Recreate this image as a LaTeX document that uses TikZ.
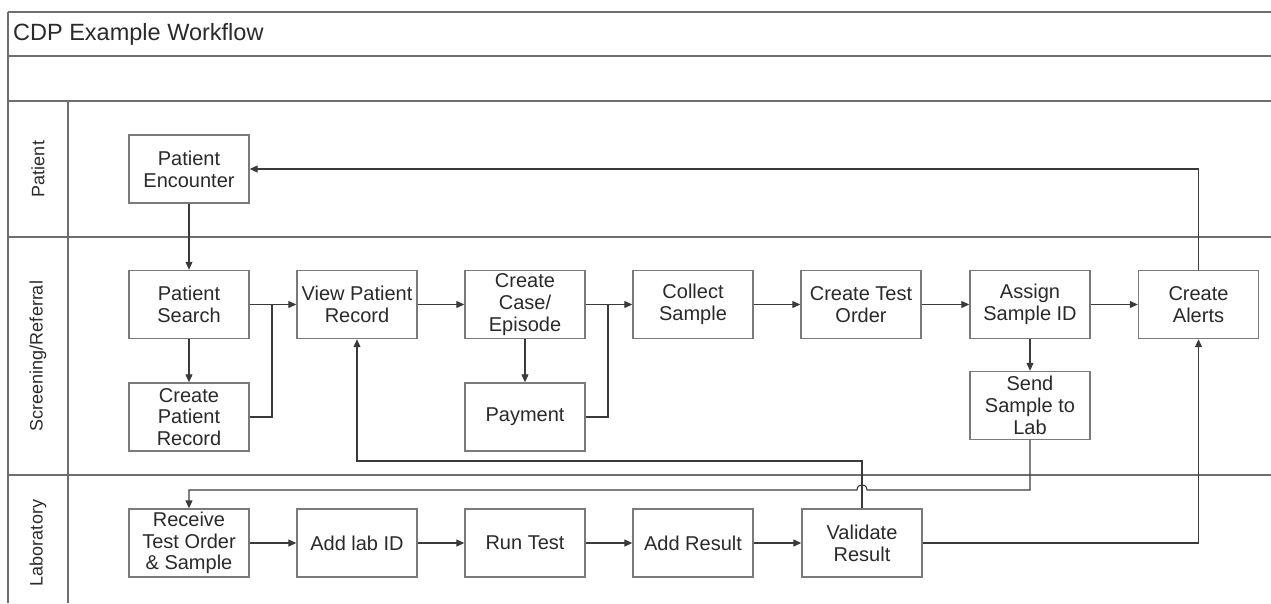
\documentclass[tikz,border=0pt]{standalone}
\usepackage{fontspec}
\setmainfont{Liberation Sans}
\usetikzlibrary{arrows.meta,calc}
\definecolor{boxline}{HTML}{7A7A7A}
\definecolor{laneline}{HTML}{6E6E6E}
\definecolor{conn}{HTML}{3A3A3A}
\definecolor{txt}{HTML}{2A2A2A}
\begin{document}
\begin{tikzpicture}[x=1pt,y=-1pt,
  box/.style={draw=boxline,line width=1.4pt,fill=white,minimum width=120pt,minimum height=68pt,
    align=center,inner sep=0pt,font=\fontsize{20}{21.8}\selectfont,text=txt},
  lane/.style={draw=laneline,line width=1.8pt},
  conn/.style={draw=conn,line width=1.1pt},
  arr/.style={conn,-{Triangle[length=8pt,width=7pt]}},
  lanelabel/.style={rotate=90,font=\fontsize{18}{20}\selectfont,text=txt,inner sep=0pt}]
\useasboundingbox (0,0) rectangle (1271,603);
% pool frame
\draw[lane] (8,12) -- (1271,12);
\draw[lane] (8,56) -- (1271,56);
\draw[lane] (8,101) -- (1271,101);
\draw[lane] (8,237) -- (1271,237);
\draw[lane] (8,475) -- (1271,475);
\draw[lane] (8,12) -- (8,603);
\draw[lane] (68,101) -- (68,603);
\node[anchor=west,font=\fontsize{23.5}{26}\selectfont,text=txt,inner sep=0pt] (title) at (13,34) {CDP Example Workflow};
\node[lanelabel] (lp) at (38,169) {Patient};
\node[lanelabel] (ls) at (38,356) {Screening/Referral};
\node[lanelabel] (ll) at (38,543) {Laboratory};
% boxes
\node[box] (enc) at (189,169) {Patient\\Encounter};
\node[box] (search) at (189,304.5) {Patient\\Search};
\node[box] (cpr) at (189,417) {Create\\Patient\\Record};
\node[box] (view) at (357,304.5) {View Patient\\Record};
\node[box] (case) at (525,304.5) {Create\\Case/\\Episode};
\node[box] (pay) at (525,417) {Payment};
\node[box] (collect) at (693,304.5) {Collect\\Sample};
\node[box] (order) at (861,304.5) {Create Test\\Order};
\node[box] (assign) at (1030,304.5) {Assign\\Sample ID};
\node[box] (alerts) at (1198.5,304.5) {Create\\Alerts};
\node[box] (send) at (1030,405.5) {Send\\Sample to\\Lab};
\node[box] (receive) at (189,543) {Receive\\Test Order\\\& Sample};
\node[box] (labid) at (357,543) {Add lab ID};
\node[box] (run) at (525,543) {Run Test};
\node[box] (result) at (693,543) {Add Result};
\node[box] (validate) at (862,543) {Validate\\Result};
% helper coordinates
\coordinate (j1) at (272,304.5);
\coordinate (j2) at (608,304.5);
\coordinate (fb) at (600,461);
\coordinate (jr) at (867,490);
\coordinate (jl) at (857,490);
% connectors
\draw[arr] (enc) -- (search);
\draw[arr] (search) -- (cpr);
\draw[arr] (search) -- (view);
\draw[conn] (cpr.east) -| (j1);
\draw[arr] (view) -- (case);
\draw[arr] (case) -- (pay);
\draw[arr] (case) -- (collect);
\draw[conn] (pay.east) -| (j2);
\draw[arr] (collect) -- (order);
\draw[arr] (order) -- (assign);
\draw[arr] (assign) -- (alerts);
\draw[arr] (assign) -- (send);
\draw[arr] (alerts.north) |- (enc.east);
\draw[arr] (validate.east) -| (alerts.south);
\draw[arr] (validate.north) |- (fb) -| (view.south);
\draw[arr] (send.south) |- (jr) .. controls ($(jr)+(0,-7)$) and ($(jl)+(0,-7)$) .. (jl) -| (receive.north);
\draw[arr] (receive) -- (labid);
\draw[arr] (labid) -- (run);
\draw[arr] (run) -- (result);
\draw[arr] (result) -- (validate);
\end{tikzpicture}
\end{document}
